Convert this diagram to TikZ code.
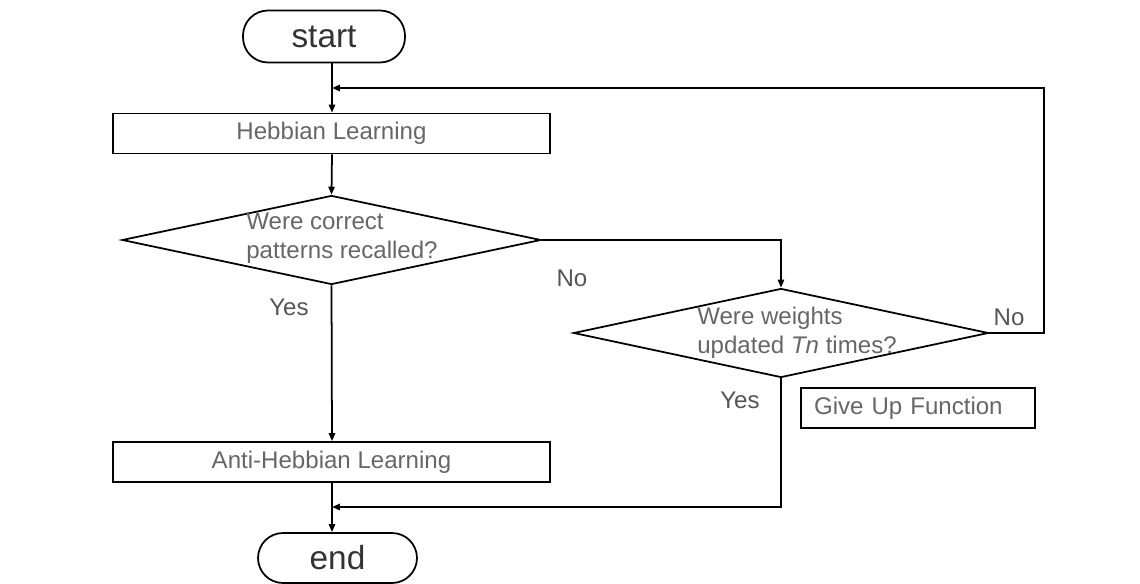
\documentclass[tikz,border=0pt]{standalone}
\usepackage{fontspec}
\setmainfont{Liberation Sans}
\usetikzlibrary{shapes.geometric,arrows.meta}
\definecolor{txtgray}{HTML}{666666}
\definecolor{lblgray}{HTML}{555555}
\newcommand{\fsmall}{\fontsize{13.7}{16.5}\selectfont}
\newcommand{\fbig}{\fontsize{19}{22}\selectfont}

\begin{document}
\begin{tikzpicture}[x=0.02cm,y=-0.02cm,line width=1pt,
    >={Triangle[length=4.5pt,width=3.6pt]},
    term/.style={draw,rounded corners=0.5cm,minimum height=1.04cm,font=\fbig,text=black!80},
    proc/.style={draw,minimum width=8.74cm,minimum height=0.8cm,font=\fsmall,text=txtgray},
    test/.style={draw,diamond,minimum width=8.38cm,minimum height=1.78cm,inner sep=0pt},
    ask/.style={font=\fsmall,text=txtgray,align=left},
    lbl/.style={font=\fsmall,text=lblgray}]
  \useasboundingbox (0,0) rectangle (1140,584);
  % boxes
  \node[term,minimum width=3.24cm] (S) at (324,36.5) {start};
  \node[proc] (H) at (331.5,133.5) {Hebbian Learning};
  \node[test] (Q1) at (331.5,240) {};
  \node[ask] (Q1t) at (342,238) {Were correct\\patterns recalled?};
  \node[test,minimum width=8.3cm] (Q2) at (781,333) {};
  \node[ask] (Q2t) at (797,333) {Were weights\\updated \textit{Tn} times?};
  \node[draw,font=\fsmall,text=txtgray,text width=4.16cm,inner xsep=0.26cm,
        minimum height=0.8cm,align=left] (G) at (918,408) {Give Up Function};
  \node[proc] (A) at (331.5,462) {Anti-Hebbian Learning};
  \node[term,minimum width=3.18cm,minimum height=1cm] (E) at (337.5,558) {end};
  % labels
  \node[lbl] (n1) at (572,278) {No};
  \node[lbl] (y1) at (289,307) {Yes};
  \node[lbl] (n2) at (1009,317) {No};
  \node[lbl] (y2) at (740,400) {Yes};
  % junctions
  \coordinate (J) at (332,88);
  \coordinate (K) at (332,507);
  % connectors
  \draw[->] (J |- S.south) -- (J |- H.north);
  \draw[->] (J |- H.south) -- (Q1.north);
  \draw[->] (Q1.east) -| (Q2.north);
  \draw[->] (Q2.east) -- ++(55,0) |- (J);
  \draw[->] (Q1.south) -- (J |- A.north);
  \draw[->] (Q2.south) |- (K);
  \draw[->] (K |- A.south) -- (K |- E.north);
\end{tikzpicture}
\end{document}
